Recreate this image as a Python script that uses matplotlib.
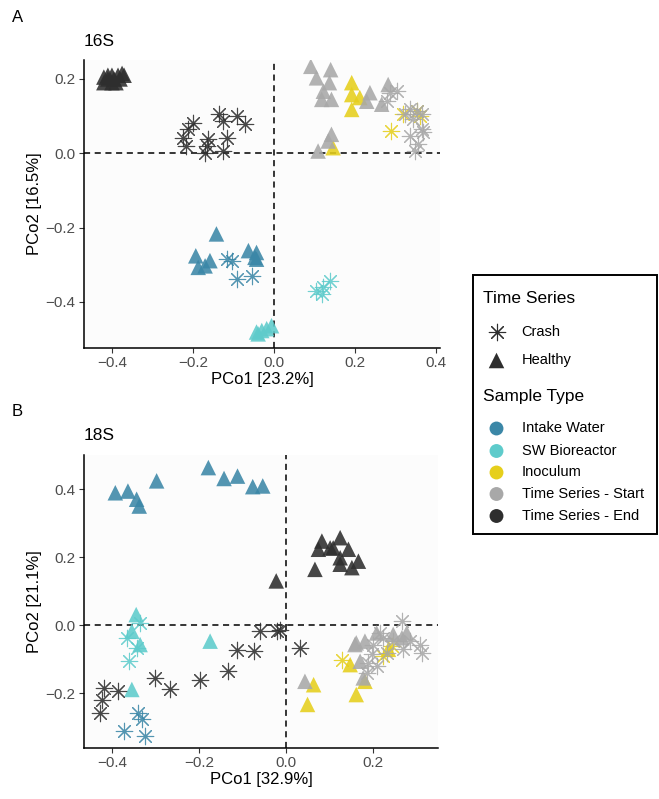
import numpy as np
import matplotlib
matplotlib.use('Agg')
import matplotlib.pyplot as plt
from matplotlib.patches import Rectangle

plt.rcParams['font.family'] = ['Liberation Sans', 'DejaVu Sans']

# ordination scores (PCo1, PCo2) per sample type and time-series state
# --- 16S ---
a_intake_healthy = [(-0.142, -0.217), (-0.193, -0.276), (-0.158, -0.289), (-0.170, -0.303),
                    (-0.187, -0.307), (-0.063, -0.262), (-0.043, -0.267), (-0.047, -0.280),
                    (-0.043, -0.285)]
a_intake_crash = [(-0.117, -0.285), (-0.104, -0.289), (-0.092, -0.338), (-0.055, -0.329)]
a_sw_healthy = [(-0.043, -0.481), (-0.030, -0.477), (-0.018, -0.472), (-0.006, -0.464),
                (-0.039, -0.486)]
a_sw_crash = [(0.105, -0.370), (0.122, -0.361), (0.138, -0.343), (0.118, -0.379)]
a_inoc_healthy = [(0.192, 0.190), (0.192, 0.158), (0.212, 0.150), (0.192, 0.118), (0.146, 0.015)]
a_inoc_crash = [(0.290, 0.060), (0.352, 0.114), (0.319, 0.105), (0.360, 0.100)]
a_start_healthy = [(0.091, 0.234), (0.140, 0.225), (0.105, 0.203), (0.137, 0.190), (0.122, 0.167),
                   (0.118, 0.145), (0.142, 0.145), (0.237, 0.163), (0.229, 0.140), (0.282, 0.185),
                   (0.266, 0.132), (0.142, 0.051), (0.109, 0.006), (0.134, 0.033)]
a_start_crash = [(0.286, 0.163), (0.303, 0.167), (0.278, 0.140), (0.336, 0.118), (0.352, 0.114),
                 (0.365, 0.105), (0.323, 0.105), (0.344, 0.091), (0.365, 0.064), (0.369, 0.056),
                 (0.336, 0.046), (0.356, 0.024), (0.348, 0.006)]
a_end_healthy = [(-0.420, 0.190), (-0.410, 0.200), (-0.400, 0.210), (-0.390, 0.190),
                 (-0.380, 0.200), (-0.375, 0.215), (-0.400, 0.190), (-0.410, 0.210),
                 (-0.395, 0.200), (-0.385, 0.210), (-0.370, 0.210), (-0.420, 0.205)]
a_end_crash = [(-0.135, 0.105), (-0.125, 0.087), (-0.092, 0.100), (-0.072, 0.078), (-0.199, 0.082),
               (-0.212, 0.064), (-0.224, 0.042), (-0.216, 0.020), (-0.162, 0.038), (-0.166, 0.020),
               (-0.170, 0.002), (-0.117, 0.042), (-0.125, 0.006)]

# --- 18S ---
b_intake_healthy = [(-0.392, 0.389), (-0.363, 0.394), (-0.343, 0.370), (-0.337, 0.350),
                    (-0.297, 0.424), (-0.178, 0.463), (-0.142, 0.431), (-0.111, 0.438),
                    (-0.076, 0.407), (-0.053, 0.409)]
b_intake_crash = [(-0.339, -0.258), (-0.331, -0.277), (-0.373, -0.310), (-0.323, -0.326)]
b_sw_healthy = [(-0.344, 0.031), (-0.354, -0.018), (-0.335, -0.057), (-0.174, -0.047),
                (-0.354, -0.189)]
b_sw_crash = [(-0.335, 0.007), (-0.366, -0.037), (-0.343, -0.067), (-0.360, -0.106)]
b_inoc_healthy = [(0.064, -0.175), (0.050, -0.233), (0.162, -0.204), (0.148, -0.116),
                  (0.182, -0.165), (0.236, -0.071)]
b_inoc_crash = [(0.129, -0.101), (0.224, -0.091), (0.245, -0.060)]
b_start_healthy = [(0.044, -0.165), (0.162, -0.052), (0.182, -0.047), (0.159, -0.057),
                   (0.171, -0.106), (0.178, -0.155), (0.209, -0.023), (0.247, -0.027),
                   (0.267, -0.037), (0.278, -0.023)]
b_start_crash = [(0.267, 0.012), (0.217, -0.023), (0.201, -0.057), (0.198, -0.086), (0.209, -0.121),
                 (0.232, -0.081), (0.270, -0.071), (0.309, -0.057), (0.313, -0.081), (0.286, -0.047),
                 (0.247, -0.047), (0.224, -0.037), (0.186, -0.140), (0.190, -0.110)]
b_end_healthy = [(0.083, 0.247), (0.125, 0.257), (0.102, 0.227), (0.144, 0.223), (0.075, 0.223),
                 (0.125, 0.198), (0.167, 0.188), (0.152, 0.169), (0.125, 0.179), (0.067, 0.164),
                 (0.109, 0.227), (-0.022, 0.130)]
b_end_crash = [(-0.059, -0.018), (-0.021, -0.018), (-0.013, -0.013), (-0.113, -0.072),
               (-0.074, -0.076), (-0.132, -0.135), (-0.197, -0.160), (-0.266, -0.189),
               (-0.300, -0.155), (-0.385, -0.194), (-0.419, -0.184), (-0.423, -0.219),
               (-0.427, -0.258), (0.033, -0.067)]

sample_types = ['Intake Water', 'SW Bioreactor', 'Inoculum',
                'Time Series - Start', 'Time Series - End']
type_colors = ['#3b87a7', '#5ecbcb', '#e6cf1b', '#a8a8a8', '#2e2e2e']
series_states = ['Crash', 'Healthy']

panel_a = [(a_intake_healthy, a_intake_crash), (a_sw_healthy, a_sw_crash),
           (a_inoc_healthy, a_inoc_crash), (a_start_healthy, a_start_crash),
           (a_end_healthy, a_end_crash)]
panel_b = [(b_intake_healthy, b_intake_crash), (b_sw_healthy, b_sw_crash),
           (b_inoc_healthy, b_inoc_crash), (b_start_healthy, b_start_crash),
           (b_end_healthy, b_end_crash)]

W, H = 659, 799
fig = plt.figure(figsize=(W / 100, H / 100), dpi=100)

asterisk = (8, 2, 0)
TRI_S = 125
AST_S = 140
AST_LW = 0.8


def px_box(left, top, right, bottom):
    return [left / W, 1 - bottom / H, (right - left) / W, (bottom - top) / H]


def draw_panel(ax, groups, xlim, ylim, xticks, yticks, xlab, ylab):
    ax.set_facecolor('#fcfcfc')
    for (healthy, crash), col in zip(groups, type_colors):
        h = np.array(healthy)
        c = np.array(crash)
        ax.scatter(h[:, 0], h[:, 1], marker='^', s=TRI_S, color=col,
                   edgecolors='none', alpha=0.88, zorder=3)
        ax.scatter(c[:, 0], c[:, 1], marker=asterisk, s=AST_S, color=col,
                   linewidths=AST_LW, alpha=0.88, zorder=3)
    ax.axhline(0, color='black', ls=(0, (4, 3)), lw=1.1, zorder=2)
    ax.axvline(0, color='black', ls=(0, (4, 3)), lw=1.1, zorder=2)
    ax.set_xlim(*xlim)
    ax.set_ylim(*ylim)
    ax.set_xticks(xticks)
    ax.set_yticks(yticks)
    ax.set_xticklabels([f'{t:.1f}'.replace('-', '\u2212') for t in xticks])
    ax.set_yticklabels([f'{t:.1f}'.replace('-', '\u2212') for t in yticks])
    for side in ['top', 'right']:
        ax.spines[side].set_visible(False)
    for side in ['left', 'bottom']:
        ax.spines[side].set_linewidth(1.1)
    ax.tick_params(length=3.5, width=0.8, color='#333333', labelcolor='#4d4d4d',
                   labelsize=11, pad=2.5)
    ax.set_xlabel(xlab, fontsize=12, labelpad=1)
    ax.set_ylabel(ylab, fontsize=12, labelpad=3)


ax_a = fig.add_axes(px_box(84, 60, 440, 348))
draw_panel(ax_a, panel_a, (-0.469, 0.41), (-0.524, 0.251),
           [-0.4, -0.2, 0.0, 0.2, 0.4], [-0.4, -0.2, 0.0, 0.2],
           'PCo1 [23.2%]', 'PCo2 [16.5%]')

ax_b = fig.add_axes(px_box(84, 455, 438, 748))
draw_panel(ax_b, panel_b, (-0.464, 0.35), (-0.361, 0.50),
           [-0.4, -0.2, 0.0, 0.2], [-0.2, 0.0, 0.2, 0.4],
           'PCo1 [32.9%]', 'PCo2 [21.1%]')

# panel tags and titles
fig.text(12 / W, 1 - 18 / H, 'A', fontsize=12, va='center', ha='left')
fig.text(84 / W, 1 - 42 / H, '16S', fontsize=12.5, va='center', ha='left')
fig.text(12 / W, 1 - 411 / H, 'B', fontsize=12, va='center', ha='left')
fig.text(84 / W, 1 - 436 / H, '18S', fontsize=12.5, va='center', ha='left')

# legend drawn in its own pixel-based axes
lax = fig.add_axes(px_box(472, 275, 657, 535))
lax.set_xlim(472, 657)
lax.set_ylim(535, 275)
lax.axis('off')
lax.add_patch(Rectangle((472.5, 275.5), 184, 259, fill=False, lw=1.4,
                        edgecolor='black', clip_on=False))
lax.text(483, 299, 'Time Series', fontsize=12.5, va='center', ha='left')
for yy, state, mk in zip([332.5, 360.5], series_states, [asterisk, '^']):
    if mk == '^':
        lax.scatter([496.5], [yy], marker=mk, s=TRI_S, color='#2e2e2e', edgecolors='none')
    else:
        lax.scatter([496.5], [yy], marker=mk, s=AST_S, color='#2e2e2e', linewidths=AST_LW)
    lax.text(521.5, yy, state, fontsize=10.5, va='center', ha='left')
lax.text(483, 396.5, 'Sample Type', fontsize=12.5, va='center', ha='left')
for yy, name, col in zip([428.5, 451, 472.5, 494, 516], sample_types, type_colors):
    lax.scatter([496.5], [yy], marker='o', s=100, color=col, edgecolors='none')
    lax.text(521.5, yy, name, fontsize=10.5, va='center', ha='left')

fig.savefig('out.png', dpi=100)
